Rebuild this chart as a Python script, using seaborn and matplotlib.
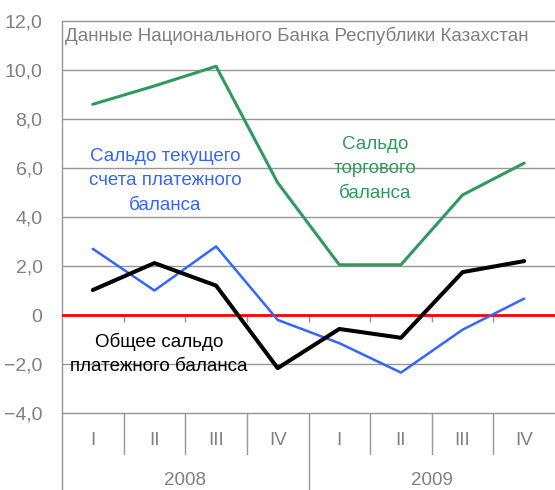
import matplotlib
matplotlib.use("Agg")
import numpy as np
import pandas as pd
import seaborn as sns
import matplotlib.pyplot as plt
import matplotlib.transforms as mtrans

# ---- data ----
quarters = ["I", "II", "III", "IV", "I", "II", "III", "IV"]
years = ["2008", "2009"]
trade_balance = [8.6, 9.35, 10.15, 5.4, 2.05, 2.05, 4.9, 6.2]
current_account = [2.7, 1.0, 2.8, -0.2, -1.15, -2.35, -0.6, 0.67]
overall_balance = [1.02, 2.12, 1.2, -2.17, -0.57, -0.93, 1.75, 2.2]
y_ticks = [-4, -2, 0, 2, 4, 6, 8, 10, 12]

title_text = "Данные Национального Банка Республики Казахстан"
label_current = "Сальдо текущего\nсчета платежного\nбаланса"
label_trade = "Сальдо\nторгового\nбаланса"
label_overall = "Общее сальдо\nплатежного баланса"

GREEN = "#2E9A5E"
BLUE = "#3366FF"
GRAY = "#808080"
GRID = "#969696"
FS = 13.5

sns.set_theme(style="white")
plt.rcParams['font.family'] = ['Liberation Sans', 'DejaVu Sans']

pos = np.arange(len(quarters))
df = pd.DataFrame({"pos": pos, "trade": trade_balance,
                   "current": current_account, "overall": overall_balance})

fig = plt.figure(figsize=(5.55, 4.9), dpi=100)
ax = fig.add_axes([62 / 555, 77 / 490, 493 / 555, 392 / 490])

sns.lineplot(data=df, x="pos", y="trade", ax=ax, color=GREEN, lw=2.2, zorder=4)
sns.lineplot(data=df, x="pos", y="current", ax=ax, color=BLUE, lw=1.8, zorder=4)
sns.lineplot(data=df, x="pos", y="overall", ax=ax, color="black", lw=2.9, zorder=5)

ax.set_xlim(-0.5, len(quarters) - 0.5)
ax.set_ylim(y_ticks[0], y_ticks[-1])
ax.set_xlabel("")
ax.set_ylabel("")

# gridlines
for v in y_ticks[1:-1]:
    if v != 0:
        ax.axhline(v, color=GRID, lw=1.0, zorder=1)
ax.axhline(0, color="#FF0000", lw=2.0, zorder=3)
# small ticks on zero line at category boundaries
ax.vlines(pos[:-1] + 0.5, -0.28, 0, color=GRID, lw=1.0, zorder=2)

# y ticks
ax.set_yticks(y_ticks)
def fmt(v):
    if v == 0:
        return "0"
    return f"{v:.1f}".replace(".", ",").replace("-", "\u2212")
ax.set_yticklabels([fmt(v) for v in y_ticks], color=GRAY, fontsize=14)
ax.tick_params(axis="y", length=0, pad=14)
ax.set_xticks([])

for s in ["left", "top", "bottom"]:
    ax.spines[s].set_color(GRID)
    ax.spines[s].set_linewidth(1.0)
ax.spines["right"].set_visible(False)

# category axis below
trans = mtrans.blended_transform_factory(ax.transData, ax.transAxes)
for i, q in enumerate(quarters):
    ax.text(pos[i], -0.069, q, transform=trans, ha="center", va="center",
            color=GRAY, fontsize=FS)
n_per_year = len(quarters) // len(years)
for b in pos[:-1] + 0.5:
    if (b + 0.5) % n_per_year == 0:
        ax.plot([b, b], [0, -0.2], transform=trans, color=GRID, lw=1.0, clip_on=False)
    else:
        ax.plot([b, b], [0, -0.105], transform=trans, color=GRID, lw=1.0, clip_on=False)
ax.plot([-0.5, -0.5], [0, -0.2], transform=trans, color=GRID, lw=1.0, clip_on=False)
for j, yname in enumerate(years):
    c = j * n_per_year + (n_per_year - 1) / 2
    ax.text(c, -0.171, yname, transform=trans, ha="center", va="center",
            color=GRAY, fontsize=FS)

# annotations
ax.text(0.006, 0.963, title_text, transform=ax.transAxes, ha="left", va="center",
        color=GRAY, fontsize=FS)
ax.text(1.17, 5.47, label_current, ha="center", va="center", color=BLUE,
        fontsize=FS, linespacing=1.55)
ax.text(4.58, 5.96, label_trade, ha="center", va="center", color=GREEN,
        fontsize=FS, linespacing=1.55)
ax.text(1.07, -1.59, label_overall, ha="center", va="center", color="black",
        fontsize=FS, linespacing=1.55)

fig.savefig("out.png", dpi=100)
